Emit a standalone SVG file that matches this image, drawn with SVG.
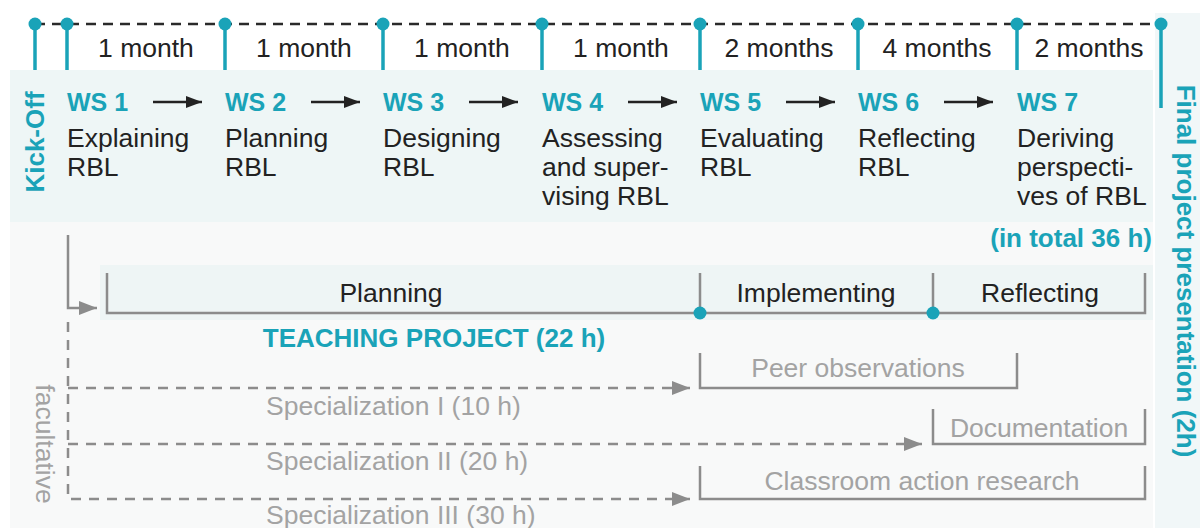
<svg xmlns="http://www.w3.org/2000/svg" width="1200" height="528" viewBox="0 0 1200 528">
<defs>
<marker id="ah" viewBox="0 0 16 12" refX="16" refY="6" markerWidth="16" markerHeight="12" markerUnits="userSpaceOnUse" orient="auto"><path d="M0,0 L16,6 L0,12 Z" fill="#222"/></marker>
<marker id="gh" viewBox="0 0 18 14" refX="18" refY="7" markerWidth="18" markerHeight="14" markerUnits="userSpaceOnUse" orient="auto"><path d="M0,0 L18,7 L0,14 Z" fill="#8c8c8c"/></marker>
</defs>
<style>
text{font-family:"Liberation Sans",Arial,sans-serif;}
.t{font-size:26.5px;fill:#222;}
.m{font-size:26.5px;fill:#222;text-anchor:middle;}
.ws{font-size:25px;font-weight:bold;fill:#1aa3b8;}
.tb{font-size:26px;font-weight:bold;fill:#1aa3b8;}
.g{font-size:26.5px;fill:#a3a3a3;}
.gm{font-size:26.5px;fill:#a3a3a3;text-anchor:middle;}
.stem{stroke:#1aa3b8;stroke-width:3.5;}
.dot{fill:#1aa3b8;}
.br{fill:none;stroke:#8c8c8c;stroke-width:2.5;}
.dash{fill:none;stroke:#8c8c8c;stroke-width:2.5;stroke-dasharray:10 8;}
.arr{stroke:#222;stroke-width:2.5;}
</style>
<rect width="1200" height="528" fill="#ffffff"/>
<rect x="10" y="70" width="1143" height="152" fill="#eef6f6"/>
<rect x="10" y="222" width="1143" height="306" fill="#f8f9f9"/>
<rect x="1155" y="13" width="45" height="515" fill="#f1f7f8"/>
<rect x="100" y="265" width="1053" height="55" fill="#eef5f5"/>

<g id="timeline">
<line x1="35" y1="24" x2="1162" y2="24" stroke="#2a2a2a" stroke-width="2.5" stroke-dasharray="10 7"/>
<line class="stem" x1="35" y1="24" x2="35" y2="70"/><circle class="dot" cx="35" cy="24" r="6.5"/>
<line class="stem" x1="67" y1="24" x2="67" y2="70"/><circle class="dot" cx="67" cy="24" r="6.5"/>
<line class="stem" x1="225" y1="24" x2="225" y2="70"/><circle class="dot" cx="225" cy="24" r="6.5"/>
<line class="stem" x1="383" y1="24" x2="383" y2="70"/><circle class="dot" cx="383" cy="24" r="6.5"/>
<line class="stem" x1="542" y1="24" x2="542" y2="70"/><circle class="dot" cx="542" cy="24" r="6.5"/>
<line class="stem" x1="700" y1="24" x2="700" y2="70"/><circle class="dot" cx="700" cy="24" r="6.5"/>
<line class="stem" x1="858" y1="24" x2="858" y2="70"/><circle class="dot" cx="858" cy="24" r="6.5"/>
<line class="stem" x1="1017" y1="24" x2="1017" y2="70"/><circle class="dot" cx="1017" cy="24" r="6.5"/>
<line class="stem" x1="1161" y1="24" x2="1161" y2="108"/><circle class="dot" cx="1161" cy="24" r="6.5"/>
<text class="m" x="146" y="57">1 month</text>
<text class="m" x="304" y="57">1 month</text>
<text class="m" x="462" y="57">1 month</text>
<text class="m" x="621" y="57">1 month</text>
<text class="m" x="779" y="57">2 months</text>
<text class="m" x="937" y="57">4 months</text>
<text class="m" x="1089" y="57">2 months</text>
</g>

<g id="kickoff"><text class="tb" text-anchor="middle" transform="translate(44,142) rotate(-90)" font-size="27">Kick-Off</text></g>
<g id="final"><text class="tb" text-anchor="middle" transform="translate(1177,271) rotate(90)" font-size="27">Final project presentation (2h)</text></g>

<g id="ws1"><text class="ws" x="67" y="111">WS 1</text><text class="t" x="67" y="147">Explaining</text><text class="t" x="67" y="176">RBL</text></g>
<g id="ws2"><text class="ws" x="225" y="111">WS 2</text><text class="t" x="225" y="147">Planning</text><text class="t" x="225" y="176">RBL</text></g>
<g id="ws3"><text class="ws" x="383" y="111">WS 3</text><text class="t" x="383" y="147">Designing</text><text class="t" x="383" y="176">RBL</text></g>
<g id="ws4"><text class="ws" x="542" y="111">WS 4</text><text class="t" x="542" y="147">Assessing</text><text class="t" x="542" y="176">and super-</text><text class="t" x="542" y="205">vising RBL</text></g>
<g id="ws5"><text class="ws" x="700" y="111">WS 5</text><text class="t" x="700" y="147">Evaluating</text><text class="t" x="700" y="176">RBL</text></g>
<g id="ws6"><text class="ws" x="858" y="111">WS 6</text><text class="t" x="858" y="147">Reflecting</text><text class="t" x="858" y="176">RBL</text></g>
<g id="ws7"><text class="ws" x="1017" y="111">WS 7</text><text class="t" x="1017" y="147">Deriving</text><text class="t" x="1017" y="176">perspecti-</text><text class="t" x="1017" y="205">ves of RBL</text></g>
<g id="total"><text class="tb" x="1152" y="247" text-anchor="end">(in total 36 h)</text></g>

<g id="teaching-project">
<path class="br" d="M107,273 V313 H1145 V273 M700,273 V313 M933,273 V313"/>
<circle class="dot" cx="700" cy="313" r="6.5"/>
<circle class="dot" cx="933" cy="313" r="6.5"/>
<text class="m" x="391" y="302">Planning</text>
<text class="m" x="816" y="302">Implementing</text>
<text class="m" x="1040" y="302">Reflecting</text>
<text class="tb" x="434" y="347" text-anchor="middle">TEACHING PROJECT (22 h)</text>
</g>

<g id="peer"><path class="br" d="M700,353 V388 H1017 V353"/><text class="gm" x="858" y="377">Peer observations</text></g>
<g id="documentation"><path class="br" d="M933,409 V444 H1145 V409"/><text class="gm" x="1039" y="437">Documentation</text></g>
<g id="classroom"><path class="br" d="M700,466 V499 H1145 V466"/><text class="gm" x="922" y="490">Classroom action research</text></g>

<g id="facultative"><text class="gm" transform="translate(36,444) rotate(90)">facultative</text></g>
<text class="g" x="266" y="415">Specialization I (10 h)</text>
<text class="g" x="266" y="470">Specialization II (20 h)</text>
<text class="g" x="266" y="524">Specialization III (30 h)</text>

<g id="connectors">
<line class="arr" x1="153" y1="102" x2="202" y2="102" marker-end="url(#ah)"/>
<line class="arr" x1="311" y1="102" x2="360" y2="102" marker-end="url(#ah)"/>
<line class="arr" x1="469" y1="102" x2="518" y2="102" marker-end="url(#ah)"/>
<line class="arr" x1="628" y1="102" x2="677" y2="102" marker-end="url(#ah)"/>
<line class="arr" x1="786" y1="102" x2="835" y2="102" marker-end="url(#ah)"/>
<line class="arr" x1="944" y1="102" x2="993" y2="102" marker-end="url(#ah)"/>
<path class="br" d="M68,235 V308 H97" marker-end="url(#gh)"/>
<path class="dash" d="M68,322 V499 H690" marker-end="url(#gh)"/>
<path class="dash" d="M68,388 H690" marker-end="url(#gh)"/>
<path class="dash" d="M68,444 H922" marker-end="url(#gh)"/>
</g>
</svg>
